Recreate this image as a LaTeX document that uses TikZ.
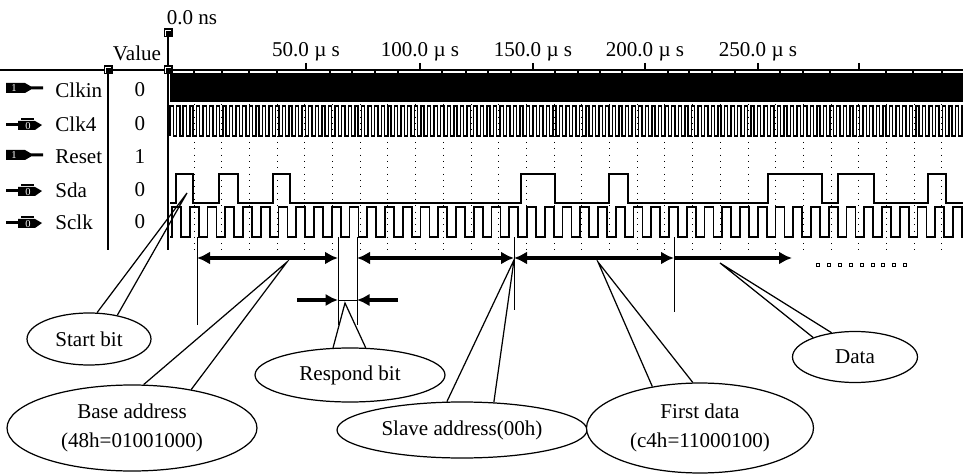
\documentclass[tikz,border=0pt]{standalone}
\usepackage{fontspec}
\setmainfont{Liberation Serif}
\usetikzlibrary{positioning,arrows.meta,shapes.geometric}

\tikzset{
  bubble/.style={ellipse, draw, fill=white, line width=0.7pt, inner sep=0pt, align=center},
  span/.style={line width=2.2pt, {Latex[length=2.6mm,width=2.6mm]}-{Latex[length=2.6mm,width=2.6mm]}},
  rspan/.style={line width=2.2pt, -{Latex[length=2.6mm,width=2.6mm]}},
  push/.style={line width=2pt, -{Latex[length=2.5mm,width=2.5mm]}},
  tline/.style={line width=0.5pt},
  pin/.style={line width=0.7pt},
  wave/.style={line width=1.1pt},
  griddots/.style={line width=0.5pt, dash pattern=on 0.6pt off 3pt},
  sig/.style={anchor=west, inner sep=0pt},
  bit/.style={white, inner sep=0pt, font=\fontsize{6}{6}\selectfont},
}

\begin{document}
\begin{tikzpicture}[x=0.02cm, y=-0.02cm, font=\fontsize{12}{16.5}\selectfont]
\useasboundingbox (0,0) rectangle (963,476);

% header and time axis
\node (zero) at (192,18) {0.0 ns};
\node (value) at (137,53) {Value};
\foreach \t/\x in {50/306, 100/420, 150/533, 200/645, 250/758}
  \node (t\t) at (\x,52) {\t.0 µ s};
\draw[line width=1.2pt] (0,70) -- (963,70);
\foreach \x in {306,420,533,645,758,859}
  \draw[line width=0.9pt] (\x,63) -- (\x,70);
\foreach \x in {194,222,249,277,330,352,375,398,442,466,488,511,555,578,600,622,668,689,712,735,780,803,830,886,913,942}
  \draw[line width=0.6pt] (\x,70) -- (\x,74);

% grid
\foreach \k in {0,...,27}
  \draw[griddots] ({194+27.7*\k},104) -- ({194+27.7*\k},250);

% signal names and values
\foreach \n/\v/\y in {Clkin/0/90, Clk4/0/124, Reset/1/157, Sda/0/190, Sclk/0/222} {
  \node[sig] (\n) at (55,\y) {\n};
  \node (v\n) at (140,\y) {\v};
}
\foreach \n/\y in {Clkin/88, Reset/155} {
  \fill (6,\y-5) -- (25,\y-5) -- (31,\y-1.5) -- (43,\y-1.5) -- (43,\y+1.5) -- (31,\y+1.5) -- (25,\y+5) -- (6,\y+5) -- cycle;
  \node[bit] (i\n) at (14,\y+0.5) {1};
}
\foreach \n/\y in {Clk4/125, Sda/191, Sclk/223} {
  \fill (6,\y-1.5) rectangle (18,\y+1.5);
  \fill (18,\y-4) -- (35,\y-4) -- (42,\y) -- (35,\y+5) -- (18,\y+5) -- cycle;
  \fill (21,\y-7) rectangle (34,\y-5);
  \node[bit] (o\n) at (28,\y+1) {0};
}

% waveforms
\begin{scope}
  \clip (169,60) rectangle (963,250);
  \fill (170,73) rectangle (963,102);
  \draw[line width=0.8pt] (170,136) \foreach \i in {1,...,121} { -- ++(0,-30) -- ++(3.3,0) -- ++(0,30) -- ++(3.3,0) };
  \draw[wave] (170,203) \foreach \a/\b in {176/193,219/238,273/290,521/555,609/628,768/822,838/874,928/946} { -- (\a,203) -- (\a,174) -- (\b,174) -- (\b,203) } -- (963,203);
  \draw[wave] (170,237) \foreach \i in {0,...,44} { -- ({172+17.75*\i},237) -- ++(0,-30) -- ++(9,0) -- ++(0,30) } -- (963,237);
\end{scope}

% cursor, divider and flags
\draw[line width=1.2pt] (168,36) -- (168,250);
\draw[line width=1pt] (108,70) -- (108,250);
\foreach \x/\y in {108/70, 168/70, 168/33} {
  \fill (\x-4.5,\y-4.5) rectangle (\x+4.5,\y+4.5);
  \draw[white, line width=0.4pt] (\x-2.5,\y+3) -- (\x-2.5,\y-2.5) -- (\x+2.5,\y-2.5);
}

% bit fields
\coordinate (b0) at (197,258);
\coordinate (b1) at (338,258);
\coordinate (b2) at (357,258);
\coordinate (b3) at (514,258);
\coordinate (b4) at (674,258);
\coordinate (b5) at (792,258);
\foreach \c/\l in {b0/88, b1/88, b2/88, b3/73, b4/75}
  \draw[tline] (\c) ++(0,-21) -- ++(0,\l);
\draw[span] (b0) -- (b1);
\draw[span] (b2) -- (b3);
\draw[span] (b3) -- (b4);
\draw[rspan] (b4) -- (b5);
\foreach \k in {0,...,8}
  \draw[line width=0.5pt] ({818+10.9*\k-1.5},263.5) rectangle ++(3,3);

% respond bit marks
\coordinate (r0) at (297,300);
\coordinate (r1) at (338,300);
\coordinate (r2) at (357,300);
\coordinate (r3) at (398,300);
\draw[push] (r0) -- (r1);
\draw[push] (r3) -- (r2);
\draw[tline] (r1) -- (r2);

% callouts
\node[bubble, minimum width=2.48cm, minimum height=1.04cm] (start) at (89,339) {Start bit};
\node[bubble, minimum width=5cm, minimum height=1.72cm] (base) at (132,428) {Base address\\(48h=01001000)};
\node[bubble, minimum width=3.8cm, minimum height=1.08cm] (resp) at (350,375) {Respond bit};
\node[bubble, minimum width=5cm, minimum height=1.12cm] (slave) at (462,430) {Slave address(00h)};
\node[bubble, minimum width=4.54cm, minimum height=1.8cm] (first) at (700,428) {First data\\(c4h=11000100)};
\node[bubble, minimum width=2.5cm, minimum height=1.02cm] (data) at (855,357) {Data};

\coordinate (tsb) at (187,193);
\coordinate (tba) at (287,262);
\coordinate (trb) at (345,303);
\coordinate (tsa) at (514,260);
\coordinate (tfd) at (598,262);
\coordinate (tda) at (720,263);
\draw[pin] (start.73) -- (tsb) -- (start.40);
\draw[pin] (base.75) -- (tba) -- (base.33);
\draw[pin] (resp.122) -- (trb) -- (resp.60);
\draw[pin] (slave.118) -- (tsa) -- (slave.41);
\draw[pin] (first.139) -- (tfd) -- (first.99);
\draw[pin] (data.155) -- (tda) -- (data.134);
\end{tikzpicture}
\end{document}
